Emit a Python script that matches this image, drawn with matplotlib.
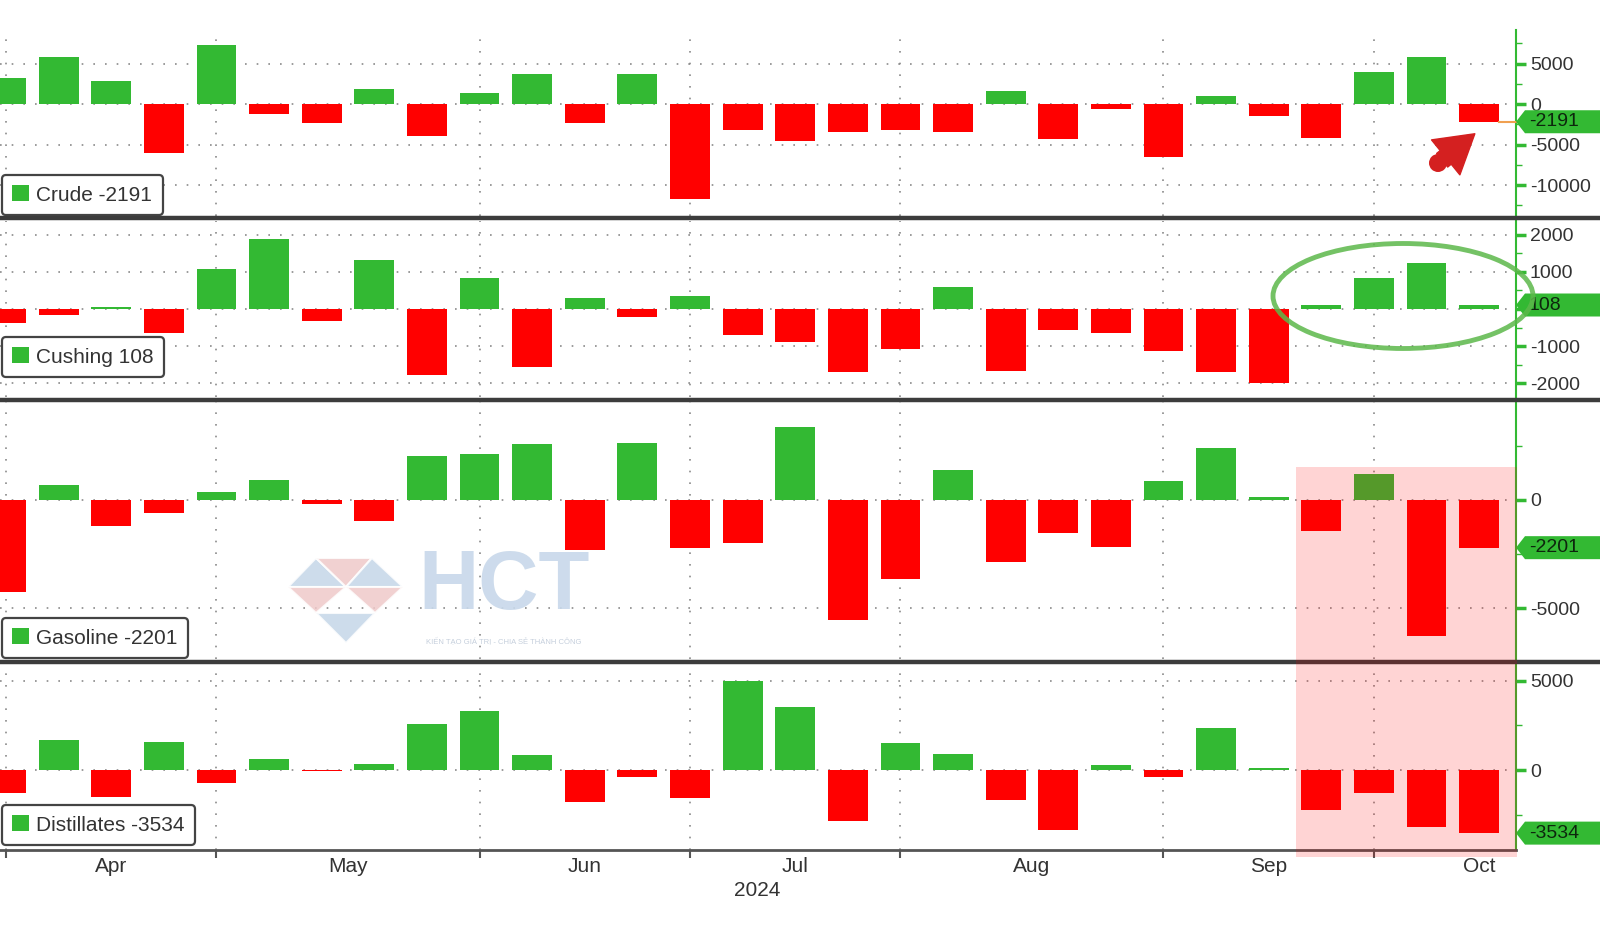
"""
Weekly US oil inventory changes (EIA), Bloomberg style four-panel bar chart
"""

# %%
import matplotlib

matplotlib.use("Agg")
import matplotlib.pyplot as plt
import matplotlib.transforms as mtransforms
from matplotlib.lines import Line2D
from matplotlib.patches import Patch, Polygon, Rectangle, Ellipse, FancyArrowPatch
from matplotlib.ticker import MultipleLocator, FuncFormatter
import pandas as pd

plt.rcParams["font.family"] = ["Liberation Sans", "DejaVu Sans"]
plt.rcParams["axes.unicode_minus"] = False

# weekly report dates (week ending Friday)
weeks = pd.date_range(end="2024-10-11", periods=29, freq="W-FRI")

# changes, thousand barrels
crude = [3170, 5760, 2840, -6050, 7250, -1270, -2380, 1890, -3990, 1320,
         3740, -2380, 3740, -11770, -3200, -4530, -3420, -3210, -3420, 1600,
         -4360, -650, -6580, 990, -1440, -4160, 3950, 5760, -2191]
cushing = [-370, -160, 50, -650, 1080, 1890, -330, 1330, -1780, 840,
           -1570, 310, -210, 360, -690, -890, -1690, -1090, 590, -1670,
           -560, -650, -1140, -1690, -1990, 110, 830, 1240, 108]
gasoline = [-4230, 710, -1180, -620, 380, 910, -200, -980, 2020, 2110,
            2580, -2290, 2650, -2200, -2000, 3380, -5540, -3630, 1380, -2870,
            -1540, -2160, 870, 2380, 150, -1440, 1180, -6290, -2201]
distillates = [-1310, 1680, -1490, 1590, -750, 600, -70, 340, 2590, 3280,
               860, -1770, -410, -1590, 5000, 3530, -2850, 1510, 910, -1680,
               -3360, 260, -410, 2350, 90, -2260, -1310, -3170, -3534]

month_names = ["Apr", "May", "Jun", "Jul", "Aug", "Sep", "Oct"]

GREEN = "#33b933"
RED = "#ff0000"
TXT = "#333333"

W, H = 1600, 936
fig = plt.figure(figsize=(W / 100, H / 100), dpi=100)


def fx(px):
    return px / W


def fy(py):
    return 1 - py / H


# last Friday of each month -> vertical grid / month boundaries
fridays = pd.date_range("2024-03-01", "2024-10-31", freq="W-FRI")
month_ends = list(pd.Series(fridays).groupby(fridays.month).max())
month_mid = [a + (b - a) / 2 for a, b in zip(month_ends[:-1], month_ends[1:])]
grid_x = [d for d in month_ends if d <= weeks[-1]]

x_left = weeks[0] - pd.Timedelta(days=0.8)
x_right = weeks[-1] + pd.Timedelta(days=4.9)

# name, values, top px, bottom px, ylim, major ticks, minor step, legend gap px
panels = [
    ("Crude", crude, 30, 216, (-13827, 9136), [5000, 0, -5000, -10000], 2500, 1),
    ("Cushing", cushing, 221, 397, (-2378, 2378), [2000, 1000, 0, -1000, -2000], 500, 20),
    ("Gasoline", gasoline, 402, 659, (-7341, 4524), [0, -5000], 2500, 1),
    ("Distillates", distillates, 664, 850, (-4479, 5935), [5000, 0], 2500, 5),
]

axes = []
for i, (name, vals, top, bot, ylim, major, minor, gap) in enumerate(panels):
    ax = fig.add_axes([0, fy(bot), fx(1516), (bot - top) / H])
    axes.append(ax)
    colors = [GREEN if v >= 0 else RED for v in vals]
    ax.bar(weeks, vals, width=5.3, color=colors, zorder=3)
    ax.set_xlim(x_left, x_right)
    ax.set_ylim(*ylim)

    last = vals[-1]
    # the zero label of Cushing sits under the value tag
    hide_zero = name == "Cushing"
    ax.yaxis.tick_right()
    ax.set_yticks(major)
    ax.yaxis.set_minor_locator(MultipleLocator(minor))
    ax.yaxis.set_major_formatter(
        FuncFormatter(lambda v, p, h=hide_zero: "" if (h and v == 0) else f"{v:.0f}"))
    ax.tick_params(axis="y", which="major", length=7, width=2.5, color=GREEN,
                   labelcolor=TXT, labelsize=14, pad=3)
    ax.tick_params(axis="y", which="minor", length=4, width=1, color=GREEN)

    ax.set_xticks(grid_x)
    ax.grid(axis="both", which="major", linestyle=(0, (1, 6)), color="#8a8a8a", lw=1.2)
    ax.set_axisbelow(True)

    for s in ["left", "top"]:
        ax.spines[s].set_visible(False)
    ax.spines["right"].set_color(GREEN)
    ax.spines["right"].set_linewidth(1.5)
    if i < 3:
        ax.spines["bottom"].set_visible(False)
        ax.tick_params(axis="x", which="both", length=0, labelbottom=False)
    else:
        ax.spines["bottom"].set_color("#555555")
        ax.spines["bottom"].set_linewidth(2)
        ax.tick_params(axis="x", which="major", length=6, width=1.5, color="#555555",
                       labelbottom=False)
        ax.set_xticks(month_mid, minor=True)
        ax.set_xticklabels(month_names, minor=True)
        ax.tick_params(axis="x", which="minor", length=0, pad=5, labelsize=15,
                       labelcolor=TXT)
        ax.annotate("2024", xy=(pd.Timestamp("2024-07-07"), 0),
                    xycoords=("data", "axes fraction"), xytext=(0, -41),
                    textcoords="offset pixels", ha="center", va="center",
                    fontsize=15, color=TXT)

    # legend box with last value
    leg = ax.legend(handles=[Patch(facecolor=GREEN)], labels=[f"{name} {last}"],
                    loc="lower left",
                    bbox_to_anchor=(2 / 1516, gap / (bot - top)),
                    borderaxespad=0, fontsize=15, handlelength=0.8, handleheight=0.8,
                    handletextpad=0.35, borderpad=0.5, fancybox=True, framealpha=1,
                    labelcolor=TXT)
    leg.get_frame().set_edgecolor("#444444")
    leg.get_frame().set_linewidth(1.6)
    leg.set_zorder(6)

    # green value tag on the right axis
    anchor = mtransforms.ScaledTranslation(1.0, last, ax.get_yaxis_transform())
    tag = Polygon([(0, 0), (0.09, 0.115), (0.84, 0.115), (0.84, -0.115), (0.09, -0.115)],
                  closed=True, facecolor=GREEN, edgecolor="none",
                  transform=fig.dpi_scale_trans + anchor, clip_on=False, zorder=10)
    ax.add_artist(tag)
    ax.annotate(f"{last}", xy=(1.0, last), xycoords=ax.get_yaxis_transform(),
                xytext=(13, 0), textcoords="offset pixels", ha="left", va="center",
                fontsize=14, color="#0d260d", zorder=11, annotation_clip=False)

# orange last-value line on crude
axes[0].plot([weeks[-1] + pd.Timedelta(days=2.65), x_right], [crude[-1], crude[-1]],
             color="#f0a050", lw=1.5, zorder=4, clip_on=False)

# panel separators
for y in [218, 399.5, 661.5]:
    fig.add_artist(Line2D([0, 1], [fy(y), fy(y)], transform=fig.transFigure,
                          color="#3c3c3c", lw=3.2, zorder=7))

# watermark
wm_blue, wm_pink = "#c5d6e8", "#efc9c9"
tris = [
    ([(316, 558), (288, 587), (346, 587)], wm_blue),
    ([(316, 558), (372, 558), (346, 587)], wm_pink),
    ([(372, 558), (346, 587), (403, 587)], wm_blue),
    ([(288, 587), (346, 587), (316, 613)], wm_pink),
    ([(346, 587), (403, 587), (375, 613)], wm_pink),
    ([(316, 613), (375, 613), (346, 643)], wm_blue),
]
for pts, c in tris:
    fig.add_artist(Polygon([(fx(a), fy(b)) for a, b in pts], closed=True,
                           transform=fig.transFigure, facecolor=c, edgecolor="white",
                           lw=1.5, alpha=0.85, zorder=5))
fig.text(fx(504), fy(587), "HCT", ha="center", va="center", fontsize=60,
         fontweight="bold", color="#c8d8ea", alpha=0.9, zorder=5)
fig.text(fx(504), fy(641), "KIẾN TẠO GIÁ TRỊ - CHIA SẺ THÀNH CÔNG", ha="center",
         va="center", fontsize=5.5, color="#c5cfdc", zorder=5)

# annotations: pink highlight, green ellipse, red arrow
fig.add_artist(Rectangle((fx(1296), fy(857)), fx(1517) - fx(1296), (857 - 467) / H,
                         transform=fig.transFigure, facecolor="red", alpha=0.17,
                         edgecolor="none", zorder=20))
fig.add_artist(Ellipse((fx(1403), fy(296)), 260 / W, 105 / H, transform=fig.transFigure,
                       fill=False, edgecolor="#5cb84a", lw=3.5, alpha=0.85, zorder=21))
fig.add_artist(FancyArrowPatch((fx(1440), fy(162)), (fx(1477), fy(132)),
                               transform=fig.transFigure,
                               arrowstyle="simple,head_width=1.8,head_length=1.5,tail_width=0.7",
                               mutation_scale=18, color="#d42020", zorder=21))
fig.add_artist(Ellipse((fx(1438), fy(163)), 18 / W, 18 / H, transform=fig.transFigure,
                       facecolor="#d42020", edgecolor="none", zorder=21))

plt.savefig("out.png", dpi=100)
